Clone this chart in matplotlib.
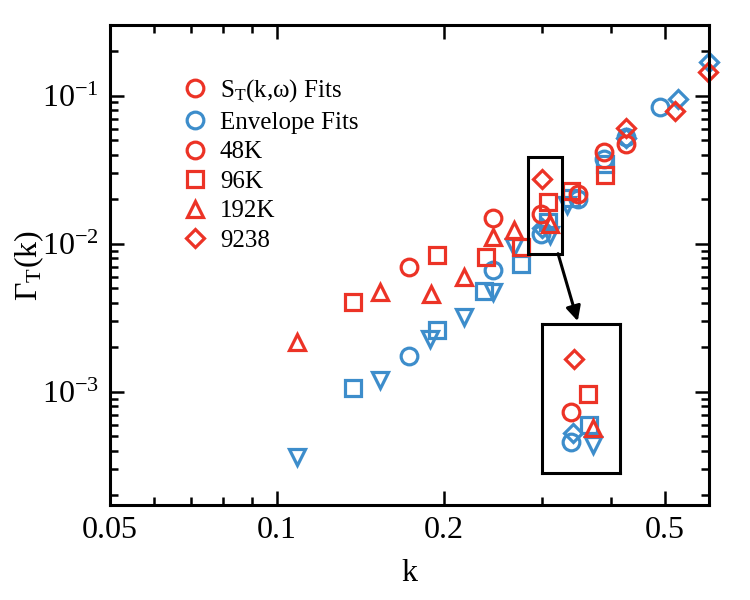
import matplotlib
matplotlib.use("Agg")
import matplotlib.pyplot as plt
from matplotlib.lines import Line2D
from matplotlib.patches import Rectangle

plt.rcParams['font.family'] = ['Liberation Serif', 'DejaVu Serif']
plt.rcParams['mathtext.fontset'] = 'custom'
plt.rcParams['mathtext.rm'] = 'Liberation Serif'
plt.rcParams['mathtext.it'] = 'Liberation Serif:italic'

RED = '#ec3326'
BLUE = '#3d8dcb'

# ---- S_T(k,w) fits (red) ----
red_48k_k = [0.1727, 0.2444, 0.2985, 0.3478, 0.3885, 0.4252]
red_48k_g = [6.97e-3, 0.0150, 0.01596, 0.0218, 0.0415, 0.0473]
red_96k_k = [0.137, 0.1944, 0.2377, 0.2748, 0.3077, 0.338, 0.3898]
red_96k_g = [4.05e-3, 8.36e-3, 8.13e-3, 9.5e-3, 0.0191, 0.02265, 0.0289]
red_192k_k = [0.1086, 0.1534, 0.1892, 0.2173, 0.2444, 0.2674, 0.310]
red_192k_g = [2.17e-3, 4.72e-3, 4.56e-3, 5.96e-3, 0.0111, 0.0123, 0.01352]
red_9238_k = [0.2999, 0.4252, 0.521, 0.598]
red_9238_g = [0.0272, 0.0607, 0.0782, 0.144]

# ---- Envelope fits (blue) ----
blue_48k_k = [0.1727, 0.2444, 0.2985, 0.3478, 0.3885, 0.4252, 0.490]
blue_48k_g = [1.75e-3, 6.62e-3, 0.0117, 0.0201, 0.0375, 0.0525, 0.0836]
blue_96k_k = [0.137, 0.1944, 0.236, 0.2748, 0.308, 0.338, 0.3898]
blue_96k_g = [1.06e-3, 2.6e-3, 4.8e-3, 7.35e-3, 0.0140, 0.0205, 0.0348]
blue_192k_k = [0.1086, 0.1534, 0.1885, 0.2173, 0.2444, 0.2674, 0.310, 0.333]
blue_192k_g = [3.65e-4, 1.21e-3, 2.29e-3, 3.2e-3, 4.72e-3, 9.46e-3, 0.01143, 0.01815]
blue_9238_k = [0.2995, 0.4252, 0.527, 0.601]
blue_9238_g = [0.01285, 0.0514, 0.0951, 0.170]

legend_labels = [r'S$_\mathrm{T}$(k,ω) Fits', 'Envelope Fits', '48K', '96K', '192K', '9238']

# zoom box (data range)
box_k = [0.2833, 0.3255]
box_g = [8.57e-3, 0.0388]

x_major = [0.05, 0.1, 0.2, 0.5]
x_major_labels = ['0.05', '0.1', '0.2', '0.5']
x_minor = [0.06, 0.07, 0.08, 0.09, 0.3, 0.4, 0.6]

MS = 12
MEW = 2.3

series = [
    (blue_48k_k, blue_48k_g, 'o', BLUE),
    (blue_96k_k, blue_96k_g, 's', BLUE),
    (blue_192k_k, blue_192k_g, 'v', BLUE),
    (blue_9238_k, blue_9238_g, 'D', BLUE),
    (red_48k_k, red_48k_g, 'o', RED),
    (red_96k_k, red_96k_g, 's', RED),
    (red_192k_k, red_192k_g, '^', RED),
    (red_9238_k, red_9238_g, 'D', RED),
]


def draw(ax, clip):
    for kk, gg, m, c in series:
        ms = MS * 0.8 if m == 'D' else MS
        ax.plot(kk, gg, linestyle='none', marker=m, ms=ms, mfc='none', mec=c,
                mew=MEW, clip_on=clip)


fig = plt.figure(figsize=(7.5, 6), dpi=100)
ax = fig.add_axes([0.1467, 0.1583, 0.7987, 0.8])
ax.set_xscale('log')
ax.set_yscale('log')
draw(ax, False)
ax.set_xlim(0.05, 0.6)
ax.set_ylim(1.72e-4, 0.3)

ax.set_xticks(x_major)
ax.set_xticklabels(x_major_labels)
ax.set_xticks(x_minor, minor=True)
ax.xaxis.set_minor_formatter(plt.NullFormatter())
ax.tick_params(which='both', direction='in', top=True, right=True, labelsize=23, width=1.8)
ax.tick_params(which='major', length=10, pad=8)
ax.tick_params(which='minor', length=5.5)
for s in ax.spines.values():
    s.set_linewidth(2.2)

ax.set_xlabel('k', fontsize=23, labelpad=10)
ax.set_ylabel(r'Γ$_\mathrm{T}$(k)', fontsize=23, labelpad=-3)

# zoom box and arrow
ax.add_patch(Rectangle((box_k[0], box_g[0]), box_k[1] - box_k[0], box_g[1] - box_g[0],
                       fill=False, ec='black', lw=2.2, zorder=5))
ax.annotate('', xy=(0.348, 3.0e-3), xytext=(0.3207, box_g[0]),
            arrowprops=dict(arrowstyle='-|>', color='black', lw=2.2,
                            mutation_scale=22, shrinkA=0, shrinkB=0))

# legend
handles = [
    Line2D([], [], ls='none', marker='o', ms=MS, mfc='none', mec=RED, mew=MEW),
    Line2D([], [], ls='none', marker='o', ms=MS, mfc='none', mec=BLUE, mew=MEW),
    Line2D([], [], ls='none', marker='o', ms=MS, mfc='none', mec=RED, mew=MEW),
    Line2D([], [], ls='none', marker='s', ms=MS, mfc='none', mec=RED, mew=MEW),
    Line2D([], [], ls='none', marker='^', ms=MS, mfc='none', mec=RED, mew=MEW),
    Line2D([], [], ls='none', marker='D', ms=MS * 0.8, mfc='none', mec=RED, mew=MEW),
]
ax.legend(handles, legend_labels, loc='upper left', bbox_to_anchor=(170 / 750, 1 - 65 / 600),
          bbox_transform=fig.transFigure, frameon=False, fontsize=18,
          handlelength=1.0, handletextpad=0.5, labelspacing=0.28, borderpad=0)

# inset
ins = fig.add_axes([542 / 750, 1 - 473 / 600, 78 / 750, 149 / 600])
ins.set_xscale('log')
ins.set_yscale('log')
draw(ins, True)
ins.set_xlim(*box_k)
ins.set_ylim(*box_g)
ins.set_xticks([])
ins.set_yticks([])
ins.minorticks_off()
ins.tick_params(which='both', length=0)
for s in ins.spines.values():
    s.set_linewidth(2.2)

fig.savefig('out.png', dpi=100)
